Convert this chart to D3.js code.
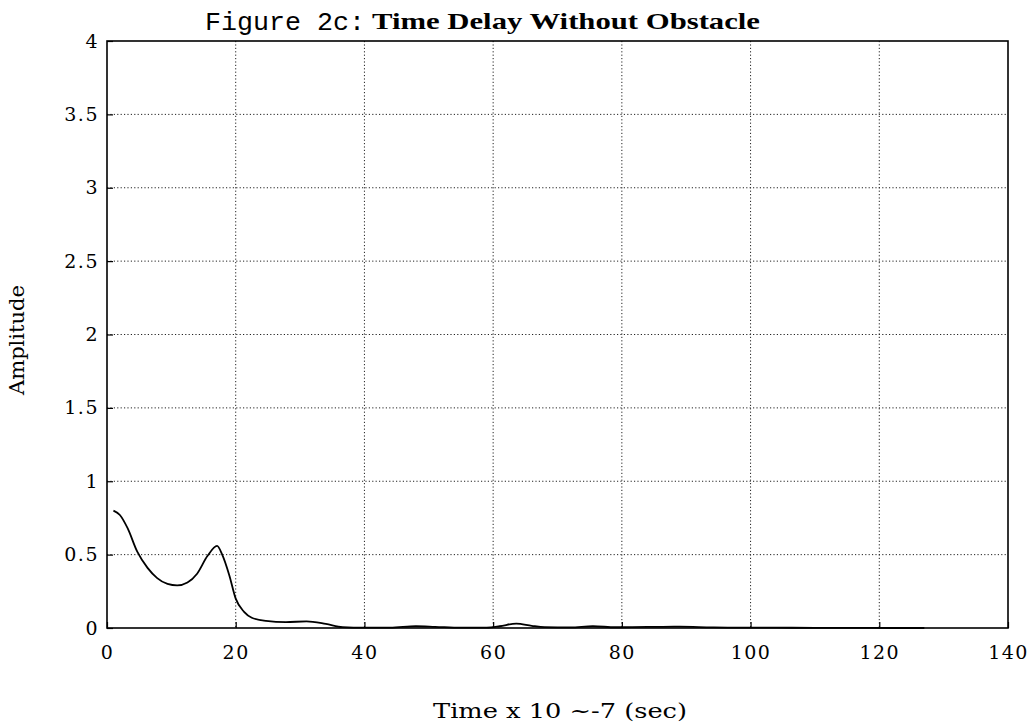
<!DOCTYPE html>
<html>
<head>
<meta charset="utf-8">
<script src="https://cdn.jsdelivr.net/npm/d3@7"></script>
<style>
  html, body { margin: 0; padding: 0; background: #fff; }
  svg { display: block; }
</style>
</head>
<body>
<svg id="chart" width="1035" height="728"></svg>
<script>
// ---- data ----
const timeValues = [1, 2, 3.2, 4.7, 6.3, 7.8, 9.4, 10.9, 12.5, 14, 15.6, 17.1, 17.9, 19, 20, 21.3, 22.5, 24.7, 27.8, 31, 34, 36.6, 40, 44, 48, 51, 55, 59, 61, 63.6, 66, 68, 72, 75.5, 79, 84, 89, 94, 98, 104, 110, 116, 122, 127];
const amplitudeValues = [0.80, 0.77, 0.68, 0.52, 0.41, 0.34, 0.30, 0.29, 0.31, 0.37, 0.49, 0.56, 0.50, 0.36, 0.20, 0.11, 0.07, 0.048, 0.04, 0.045, 0.028, 0.006, 0.002, 0.002, 0.012, 0.008, 0.002, 0.003, 0.012, 0.03, 0.015, 0.006, 0.004, 0.012, 0.005, 0.007, 0.009, 0.004, 0.002, 0.002, 0.001, 0.001, 0.0, 0.0];
const xTicks = [0, 20, 40, 60, 80, 100, 120, 140];
const yTicks = [0, 0.5, 1, 1.5, 2, 2.5, 3, 3.5, 4];
const yTickLabels = ["0", "0.5", "1", "1.5", "2", "2.5", "3", "3.5", "4"];
const titlePart1 = "Figure 2c:";
const titlePart2 = "Time Delay Without Obstacle";
const xTitle = "Time x 10 ~-7 (sec)";
const yTitle = "Amplitude";

// ---- layout ----
const L = 107, R = 1008, T = 41, B = 628;
const svg = d3.select("#chart");
const x = d3.scaleLinear().domain([0, 140]).range([L, R]);
const y = d3.scaleLinear().domain([0, 4]).range([B, T]);

const tickFont = "'DejaVu Serif', serif";

// grid
const grid = svg.append("g").attr("stroke", "#222").attr("stroke-width", 1)
  .attr("stroke-dasharray", "1.2,2.2").attr("fill", "none");
grid.selectAll("line.v").data(xTicks.slice(1, -1)).join("line")
  .attr("x1", d => x(d)).attr("x2", d => x(d)).attr("y1", T).attr("y2", B);
grid.selectAll("line.h").data(yTicks.slice(1, -1)).join("line")
  .attr("y1", d => y(d)).attr("y2", d => y(d)).attr("x1", L).attr("x2", R);

// axes
const xAxis = d3.axisBottom(x).tickValues(xTicks).tickSize(-6).tickPadding(15)
  .tickFormat(d3.format("d"));
const gx = svg.append("g").attr("transform", `translate(0,${B})`).call(xAxis);
const yAxis = d3.axisLeft(y).tickValues(yTicks).tickSize(-6).tickPadding(8)
  .tickFormat((d, i) => yTickLabels[i]);
const gy = svg.append("g").attr("transform", `translate(${L},0)`).call(yAxis);
[gx, gy].forEach(g => {
  g.select(".domain").remove();
  g.selectAll(".tick line").attr("stroke", "#000").attr("stroke-width", 1.2);
  g.selectAll(".tick text").attr("fill", "#000")
    .style("font-family", tickFont).style("font-size", "19px")
    .style("letter-spacing", "1.5px");
});
gx.selectAll(".tick text").attr("dy", "0.85em");

// frame
svg.append("rect").attr("x", L).attr("y", T).attr("width", R - L).attr("height", B - T)
  .attr("fill", "none").attr("stroke", "#000").attr("stroke-width", 1.6);

// curve
const pts = timeValues.map((t, i) => [t, amplitudeValues[i]]);
const line = d3.line().x(d => x(d[0])).y(d => y(d[1])).curve(d3.curveMonotoneX);
svg.append("path").datum(pts).attr("d", line)
  .attr("fill", "none").attr("stroke", "#000").attr("stroke-width", 1.8);

// titles
svg.append("text").attr("x", 205).attr("y", 30)
  .style("font-family", "'Liberation Mono', monospace").style("font-size", "25px")
  .attr("textLength", 160).attr("lengthAdjust", "spacingAndGlyphs")
  .text(titlePart1);
svg.append("text").attr("x", 372).attr("y", 29)
  .style("font-family", "'Liberation Serif', serif").style("font-size", "24px")
  .style("font-weight", "600")
  .attr("textLength", 388).attr("lengthAdjust", "spacingAndGlyphs")
  .text(titlePart2);
svg.append("text").attr("x", 560).attr("y", 718).attr("text-anchor", "middle")
  .style("font-family", tickFont).style("font-size", "20px")
  .attr("textLength", 254).attr("lengthAdjust", "spacingAndGlyphs")
  .text(xTitle);
svg.append("text").attr("transform", "translate(24,340) rotate(-90)")
  .attr("text-anchor", "middle")
  .style("font-family", tickFont).style("font-size", "20px")
  .attr("textLength", 110).attr("lengthAdjust", "spacingAndGlyphs")
  .text(yTitle);
</script>
</body>
</html>
